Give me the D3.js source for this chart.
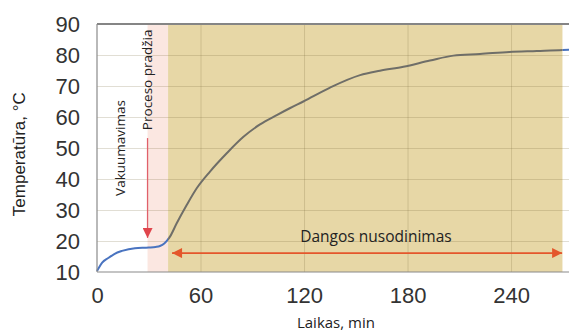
<!DOCTYPE html>
<html>
<head>
<meta charset="utf-8">
<script src="https://cdn.jsdelivr.net/npm/d3@7"></script>
<style>
  body { margin: 0; background: #fff; }
  svg { display: block; }
</style>
</head>
<body>
<div id="chart"></div>
<script>
// Temperature curve (minutes, °C)
const timeMin = [0, 1, 3, 6.5, 10, 14.5, 22, 30, 34, 36.5, 39, 42.3, 46.2, 52, 57.8, 65.5, 75.2, 84.9,
  94.5, 104.2, 112, 119.6, 135.1, 152.5, 164, 177.6, 193, 206.6, 222, 239, 255, 270, 273.6]
const tempC = [10.3, 11.3, 13, 14.5, 15.8, 16.8, 17.7, 17.9, 18.1, 18.4, 19.2, 21.4, 25.7, 31.6, 37, 42.4, 48.3, 53.6,
  57.6, 60.6, 62.9, 65, 69.5, 73.5, 74.9, 76.2, 78.2, 79.8, 80.3, 81.0, 81.3, 81.6, 81.7]

const xTicks = [0, 60, 120, 180, 240]
const yTicks = [10, 20, 30, 40, 50, 60, 70, 80, 90]

// Phases (minutes)
const processStart = 29.3
const coatingStart = 41.2
const coatingEnd = 269.8

const labels = {
  yTitle: 'Temperatūra, °C',
  xTitle: 'Laikas, min',
  vacuum: 'Vakuumavimas',
  start: 'Proceso pradžia',
  coating: 'Dangos nusodinimas'
}

const data = timeMin.map((t, i) => ({ t: t, v: tempC[i] }))

const width = 569
const height = 333
const margin = { top: 24, right: 0, bottom: 61, left: 97 }
const innerWidth = width - margin.left - margin.right
const innerHeight = height - margin.top - margin.bottom

const svg = d3.select('#chart')
  .append('svg')
  .attr('width', width)
  .attr('height', height)

const g = svg.append('g')
  .attr('transform', `translate(${margin.left}, ${margin.top})`)

const xScale = d3.scaleLinear().domain([0, 273.6]).range([0, innerWidth])
const yScale = d3.scaleLinear().domain([10, 90]).range([innerHeight, 0])

// Shaded phases
g.append('rect')
  .attr('x', xScale(processStart))
  .attr('y', 0)
  .attr('width', xScale(coatingStart) - xScale(processStart))
  .attr('height', innerHeight)
  .attr('fill', '#fbe7e1')

g.append('rect')
  .attr('x', xScale(coatingStart))
  .attr('y', 0)
  .attr('width', xScale(coatingEnd) - xScale(coatingStart))
  .attr('height', innerHeight)
  .attr('fill', '#e7d7a6')

// Gridlines
g.append('g')
  .attr('class', 'grid')
  .call(d3.axisLeft(yScale).tickValues(yTicks.slice(1, -1)).tickSize(-innerWidth).tickFormat(''))
g.append('g')
  .attr('class', 'grid')
  .attr('transform', `translate(0, ${innerHeight})`)
  .call(d3.axisBottom(xScale).tickValues(xTicks.slice(1)).tickSize(-innerHeight).tickFormat(''))
g.selectAll('.grid .domain').remove()
g.selectAll('.grid text').remove()
g.selectAll('.grid line')
  .attr('stroke', 'rgba(120, 105, 60, 0.22)')
  .attr('stroke-width', 1)

// Clip paths so the curve looks grey over the coating zone
const defs = svg.append('defs')
defs.append('clipPath').attr('id', 'clipIn')
  .append('rect')
  .attr('x', xScale(coatingStart)).attr('y', -5)
  .attr('width', xScale(coatingEnd) - xScale(coatingStart)).attr('height', innerHeight + 10)
defs.append('clipPath').attr('id', 'clipOut')
  .append('path')
  .attr('d', `M-5,-5H${xScale(coatingStart)}V${innerHeight + 5}H-5Z M${xScale(coatingEnd)},-5H${innerWidth + 5}V${innerHeight + 5}H${xScale(coatingEnd)}Z`)

const tempLine = d3.line()
  .x(d => xScale(d.t))
  .y(d => yScale(d.v))
  .curve(d3.curveMonotoneX)

g.append('path')
  .datum(data)
  .attr('d', tempLine)
  .attr('fill', 'none')
  .attr('stroke', '#4a74c0')
  .attr('stroke-width', 2)
  .attr('clip-path', 'url(#clipOut)')

g.append('path')
  .datum(data)
  .attr('d', tempLine)
  .attr('fill', 'none')
  .attr('stroke', '#6f6e68')
  .attr('stroke-width', 2)
  .attr('clip-path', 'url(#clipIn)')

// Frame
g.append('line').attr('x1', 0).attr('x2', innerWidth).attr('y1', 0).attr('y2', 0)
  .attr('stroke', '#858585').attr('stroke-width', 2)
g.append('line').attr('x1', 0).attr('x2', 0).attr('y1', 0).attr('y2', innerHeight)
  .attr('stroke', '#8a8a8a').attr('stroke-width', 1.2)
g.append('line').attr('x1', 0).attr('x2', innerWidth).attr('y1', innerHeight).attr('y2', innerHeight)
  .attr('stroke', '#8a8a8a').attr('stroke-width', 1.2)

// Axes
const tickFont = '"Liberation Sans", Arial, sans-serif'

const yAxis = g.append('g')
  .call(d3.axisLeft(yScale).tickValues(yTicks).tickSize(0).tickPadding(17))
yAxis.select('.domain').remove()
yAxis.selectAll('text')
  .attr('font-family', tickFont)
  .attr('font-size', 22)
  .attr('fill', '#333')

const xAxis = g.append('g')
  .attr('transform', `translate(0, ${innerHeight})`)
  .call(d3.axisBottom(xScale).tickValues(xTicks).tickSize(0).tickPadding(15))
xAxis.select('.domain').remove()
xAxis.selectAll('text')
  .attr('font-family', tickFont)
  .attr('font-size', 22)
  .attr('fill', '#333')

// Axis titles
svg.append('text')
  .attr('transform', `translate(25, ${margin.top + yScale(48)}) rotate(-90)`)
  .attr('text-anchor', 'middle')
  .attr('font-family', tickFont)
  .attr('font-size', 17)
  .attr('fill', '#222')
  .text(labels.yTitle)

svg.append('text')
  .attr('x', margin.left + xScale(138.5))
  .attr('y', 328)
  .attr('text-anchor', 'middle')
  .attr('font-family', '"Open Sans", sans-serif')
  .attr('font-size', 15)
  .attr('fill', '#222')
  .text(labels.xTitle)

// Annotations
const annFont = '"Open Sans", sans-serif'

g.append('text')
  .attr('transform', `translate(${xScale(16.2)}, ${yScale(50)}) rotate(-90)`)
  .attr('text-anchor', 'middle')
  .attr('font-family', annFont)
  .attr('font-size', 13.5)
  .attr('fill', '#222')
  .text(labels.vacuum)

g.append('text')
  .attr('transform', `translate(${xScale(32)}, ${yScale(72)}) rotate(-90)`)
  .attr('text-anchor', 'middle')
  .attr('font-family', annFont)
  .attr('font-size', 13.5)
  .attr('fill', '#222')
  .text(labels.start)

g.append('text')
  .attr('x', xScale(161.7))
  .attr('y', yScale(19.7))
  .attr('text-anchor', 'middle')
  .attr('font-family', annFont)
  .attr('font-size', 15.5)
  .attr('fill', '#222')
  .text(labels.coating)

// Arrow markers
function addMarker(id, color) {
  defs.append('marker')
    .attr('id', id)
    .attr('viewBox', '0 0 10 10')
    .attr('refX', 10)
    .attr('refY', 5)
    .attr('markerUnits', 'userSpaceOnUse')
    .attr('markerWidth', 11)
    .attr('markerHeight', 10)
    .attr('orient', 'auto-start-reverse')
    .append('path')
    .attr('d', 'M0,0L10,5L0,10Z')
    .attr('fill', color)
}
addMarker('arrowRed', '#e0454c')
addMarker('arrowOrange', '#e4562b')

g.append('line')
  .attr('x1', xScale(processStart)).attr('x2', xScale(processStart))
  .attr('y1', yScale(53.2)).attr('y2', yScale(21))
  .attr('stroke', '#e0606a')
  .attr('stroke-width', 1.3)
  .attr('marker-end', 'url(#arrowRed)')

g.append('line')
  .attr('x1', xScale(43.5)).attr('x2', xScale(269.6))
  .attr('y1', yScale(16.1)).attr('y2', yScale(16.1))
  .attr('stroke', '#e4562b')
  .attr('stroke-width', 1.6)
  .attr('marker-start', 'url(#arrowOrange)')
  .attr('marker-end', 'url(#arrowOrange)')
</script>
</body>
</html>
